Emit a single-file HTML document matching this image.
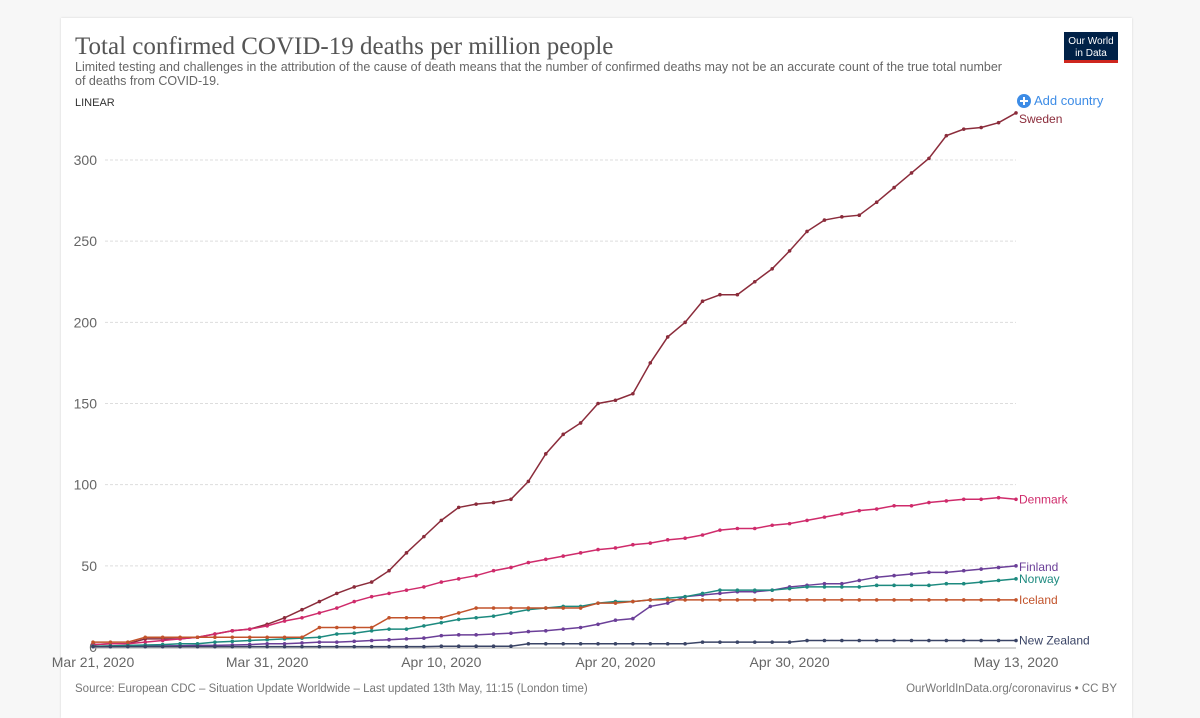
<!DOCTYPE html>
<html><head><meta charset="utf-8">
<style>
body{margin:0;background:#f7f7f7;width:1200px;height:707px;overflow:hidden;font-family:"Liberation Sans",sans-serif}
#card{position:absolute;left:61px;top:18px;width:1071px;height:700px;background:#fff;box-shadow:0 0 2px rgba(0,0,0,.15)}
svg{position:absolute;left:0;top:0}
</style></head><body>
<div id="card"></div>
<svg id="chart" width="1200" height="707">
<text x="75" y="54" font-family="Liberation Serif,serif" font-size="25" fill="#555">Total confirmed COVID-19 deaths per million people</text>
<text x="75" y="71" font-size="12.5" fill="#666">Limited testing and challenges in the attribution of the cause of death means that the number of confirmed deaths may not be an accurate count of the true total number</text>
<text x="75" y="85" font-size="12.5" fill="#666">of deaths from COVID-19.</text>
<text x="75" y="106" font-size="11" fill="#333">LINEAR</text>
<g><rect x="1064" y="32" width="54" height="28" fill="#002147"/><rect x="1064" y="60" width="54" height="3" fill="#ce261e"/>
<text x="1091" y="44" font-size="10" fill="#fff" text-anchor="middle">Our World</text><text x="1091" y="56" font-size="10" fill="#fff" text-anchor="middle">in Data</text></g>
<g><circle cx="1024" cy="101" r="7" fill="#3d8ce6"/><path d="M1020 101h8M1024 97v8" stroke="#fff" stroke-width="2"/>
<text x="1034" y="105" font-size="13" fill="#3d8ce6">Add country</text></g>
<g id="grid"></g><g id="axes"></g><g id="series"></g>
<text x="75" y="692" font-size="11.5" fill="#777">Source: European CDC – Situation Update Worldwide – Last updated 13th May, 11:15 (London time)</text>
<text x="1117" y="692" font-size="11.5" fill="#777" text-anchor="end">OurWorldInData.org/coronavirus • CC BY</text>
</svg>
<script>
const xTickLabels=["Mar 21, 2020","Mar 31, 2020","Apr 10, 2020","Apr 20, 2020","Apr 30, 2020","May 13, 2020"];
const xTickDays=[0,10,20,30,40,53];
const yTicks=[0,50,100,150,200,250,300];
const countries=["Sweden","Denmark","Finland","Norway","Iceland","New Zealand"];
const sweden=[1.5,2,2,5,5,5,6,8,10,11,14,18,23,28,33,37,40,47,58,68,78,86,88,89,91,102,119,131,138,150,152,156,175,191,200,213,217,217,225,233,244,256,263,265,266,274,283,292,301,315,319,320,323,329];
const denmark=[1.5,2,2,3,4,5,6,8,10,11,13,16,18,21,24,28,31,33,35,37,40,42,44,47,49,52,54,56,58,60,61,63,64,66,67,69,72,73,73,75,76,78,80,82,84,85,87,87,89,90,91,91,92,91];
const finland=[0.3,0.3,0.5,0.5,0.7,0.8,1,1,1.2,1.5,2,2,2.5,3,3,3.5,4,4.5,5,5.5,7,7.5,7.5,8,8.5,9.5,10,11,12,14,16.5,17.5,25,27,31,32,33,34,34,35,37,38,39,39,41,43,44,45,46,46,47,48,49,50];
const norway=[0.5,0.7,1,1.2,1.5,2,2,3,3.5,4,4.5,5,5.5,6,8,8.5,10,11,11,13,15,17,18,19,21,23,24,25,25,27,28,28,29,30,31,33,35,35,35,35,36,37,37,37,37,38,38,38,38,39,39,40,41,42];
const iceland=[3,3,3,6,6,6,6,6,6,6,6,6,6,12,12,12,12,18,18,18,18,21,24,24,24,24,24,24,24,27,27,28,29,29,29,29,29,29,29,29,29,29,29,29,29,29,29,29,29,29,29,29,29,29];
const newZealand=[0.2,0.2,0.2,0.2,0.2,0.2,0.2,0.2,0.2,0.2,0.2,0.2,0.2,0.2,0.2,0.2,0.2,0.2,0.2,0.2,0.5,0.5,0.5,0.5,0.5,2,2,2,2,2,2,2,2,2,2,3,3,3,3,3,3,4,4,4,4,4,4,4,4,4,4,4,4,4];
const seriesData=[sweden,denmark,finland,norway,iceland,newZealand];
const colors=["#8b2c3b","#cf2b6b","#6b3f98","#1d8a7f","#c2532b","#3a4466"];
const labelDy=[10,4,5,4,4,4];
const NS="http://www.w3.org/2000/svg";
const X0=93,X1=1016,Y0=647,Y300=160;
const x=d=>X0+(X1-X0)*d/53;
const y=v=>Y0-(Y0-Y300)*v/300;
function mk(t,a,p){const e=document.createElementNS(NS,t);for(const k in a)e.setAttribute(k,a[k]);p.appendChild(e);return e;}
const grid=document.getElementById('grid'),axes=document.getElementById('axes'),ser=document.getElementById('series');
yTicks.forEach(v=>{
 if(v>0){const l=mk('line',{x1:105,x2:X1,y1:y(v),y2:y(v),stroke:'#ddd','stroke-dasharray':'3,2'},grid);
 
 }
 const t=mk('text',{x:97,y:y(v)+5,'font-size':14,fill:'#666','text-anchor':'end'},axes);t.textContent=v;
 
 
});
const ax=mk('line',{x1:X0,x2:X1,y1:Y0+1,y2:Y0+1,stroke:'#aaa'},axes);


xTickLabels.forEach((s,i)=>{
 const t=mk('text',{x:x(xTickDays[i]),y:667,'font-size':14,fill:'#666','text-anchor':'middle'},axes);t.textContent=s;
 
 
});
seriesData.forEach((arr,si)=>{
 const g=mk('g',{},ser);
 
 
 mk('polyline',{points:arr.map((v,i)=>x(i)+','+y(v)).join(' '),fill:'none',stroke:colors[si],'stroke-width':1.5},g);
 arr.forEach((v,i)=>mk('circle',{cx:x(i),cy:y(v),r:1.8,fill:colors[si]},g));
 const t=mk('text',{x:X1+3,y:y(arr[arr.length-1])+labelDy[si],'font-size':12,fill:colors[si]},g);t.textContent=countries[si];
 
 
});
</script>
</body></html>
